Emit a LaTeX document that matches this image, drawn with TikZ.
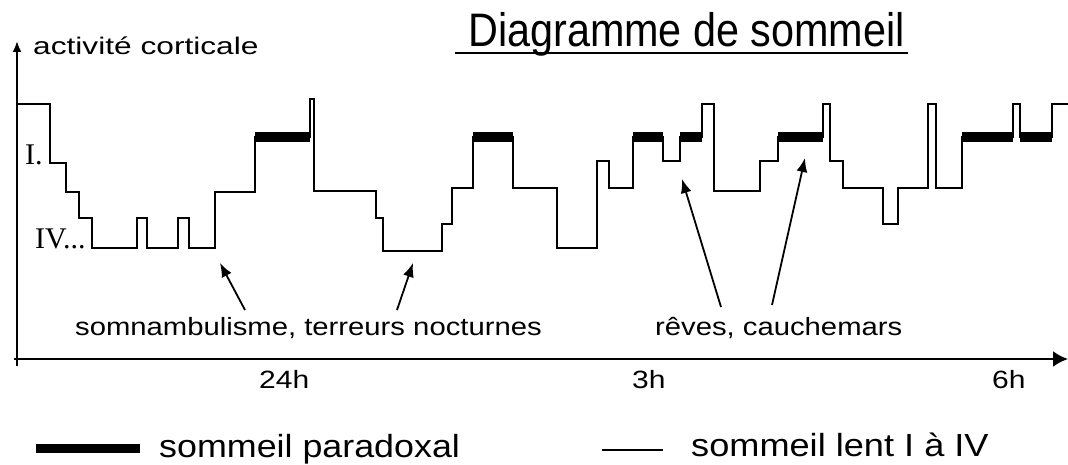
\documentclass[tikz,border=0pt]{standalone}
\usepackage{fontspec}
\usepackage{graphicx}
\setmainfont{Liberation Sans}
\newfontfamily\lvlfont{Liberation Serif}
\usetikzlibrary{arrows.meta}
\tikzset{
  lbl/.style={inner sep=0pt, anchor=base west},
  curve/.style={line width=2pt, line join=miter},
  remband/.style={line width=10pt, line cap=butt},
  pointer/.style={line width=1.8pt, -{Latex[length=14pt,width=11pt]}},
  axisline/.style={line width=2pt},
}
\newcommand{\wtxt}[3]{\scalebox{#1}[1]{\fontsize{#2}{#2}\selectfont #3}}
\begin{document}
\begin{tikzpicture}[x=1pt,y=-1pt]
\useasboundingbox (0,0) rectangle (1068,465);
% axes
\coordinate (ybot) at (17,366);
\coordinate (ytop) at (17,41);
\coordinate (xl) at (14,359);
\coordinate (xr) at (1068,359);
\draw[axisline,-{Latex[length=11pt,width=9pt]}] (ybot) -- (ytop);
\draw[line width=2.5pt,-{Latex[length=15pt,width=16pt]}] (xl) -- (xr);
% labels
\node[lbl] (ylabel) at (33,55) {\wtxt{1.32}{24}{activité corticale}};
\node[lbl] (title) at (468,47) {\wtxt{0.88}{47}{Diagramme de sommeil}};
\coordinate (ulA) at (455,53);
\coordinate (ulB) at (908,53);
\draw[line width=2pt] (ulA) -- (ulB);
\node[lbl] (lvlI) at (25,165) {\lvlfont\fontsize{30}{30}\selectfont I.};
\node[lbl] (lvlIV) at (35,248) {\lvlfont\fontsize{30}{30}\selectfont IV...};
% sleep curve (thin)
\draw[curve] (18,104) -- (50,104) -- (50,163) -- (66,163) -- (66,192) -- (79,192)
  -- (79,218) -- (92,218) -- (92,248) -- (137,248) -- (137,218) -- (147,218)
  -- (147,248) -- (178,248) -- (178,218) -- (189,218) -- (189,248) -- (215,248)
  -- (215,192) -- (255,192) -- (255,137) -- (310,137) -- (310,99) -- (314,99)
  -- (314,191) -- (376,191) -- (376,218) -- (383,218) -- (383,251) -- (442,251)
  -- (442,224) -- (452,224) -- (452,188) -- (473,188) -- (473,137) -- (513,137)
  -- (513,188) -- (557,188) -- (557,248) -- (597,248) -- (597,161) -- (609,161)
  -- (609,188) -- (633,188) -- (633,137) -- (663,137) -- (663,161) -- (680,161)
  -- (680,137) -- (702,137) -- (702,104) -- (714,104) -- (714,191) -- (760,191)
  -- (760,161) -- (778,161) -- (778,137) -- (823,137) -- (823,104) -- (830,104)
  -- (830,161) -- (843,161) -- (843,188) -- (883,188) -- (883,224) -- (898,224)
  -- (898,188) -- (928,188) -- (928,104) -- (936,104) -- (936,188) -- (962,188)
  -- (962,137) -- (1013,137) -- (1013,104) -- (1020,104) -- (1020,137) -- (1052,137)
  -- (1052,104) -- (1068,104);
% paradoxical sleep bands
\foreach \a/\b in {255/310, 473/513, 633/663, 680/702, 778/823, 962/1013, 1020/1052}
  \draw[remband] (\a,137) -- (\b,137);
% annotations
\node[lbl] (somn) at (75,335) {\wtxt{1.17}{25}{somnambulisme, terreurs nocturnes}};
\node[lbl] (reves) at (655,335) {\wtxt{1.17}{25}{rêves, cauchemars}};
\coordinate (a1s) at (245,310); \coordinate (a1e) at (220,263);
\coordinate (a2s) at (397,310); \coordinate (a2e) at (413,263);
\coordinate (a3s) at (721,307); \coordinate (a3e) at (682,179);
\coordinate (a4s) at (772,305); \coordinate (a4e) at (805,158);
\draw[pointer] (a1s) -- (a1e);
\draw[pointer] (a2s) -- (a2e);
\draw[pointer] (a3s) -- (a3e);
\draw[pointer] (a4s) -- (a4e);
% ticks
\node[lbl] (t24) at (259,388) {\wtxt{1.2}{25}{24h}};
\node[lbl] (t3) at (632,388) {\wtxt{1.2}{25}{3h}};
\node[lbl] (t6) at (992,388) {\wtxt{1.2}{25}{6h}};
% legend
\coordinate (lpA) at (36,448); \coordinate (lpB) at (140,448);
\coordinate (llA) at (602,450); \coordinate (llB) at (663,450);
\draw[remband,line width=9pt] (lpA) -- (lpB);
\draw[line width=2pt] (llA) -- (llB);
\node[lbl] (legP) at (159,457) {\wtxt{1.12}{32}{sommeil paradoxal}};
\node[lbl] (legL) at (691,456) {\wtxt{1.13}{32}{sommeil lent I à IV}};
\end{tikzpicture}
\end{document}
